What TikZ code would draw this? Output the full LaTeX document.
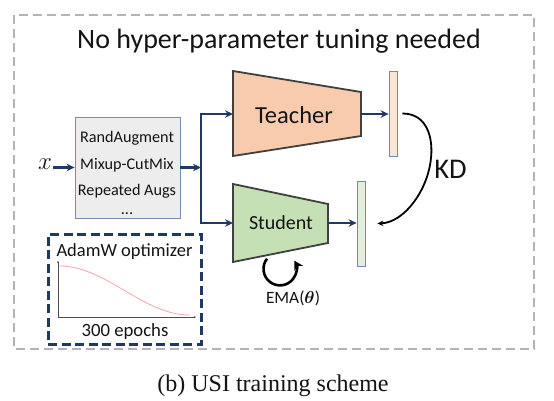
\documentclass[tikz,border=0pt]{standalone}
\usepackage{fontspec}
\usepackage{bm}
\setmainfont{Carlito}
\newfontfamily\capfont{Liberation Serif}
\usetikzlibrary{arrows.meta}
\definecolor{navy}{HTML}{203864}
\definecolor{tfill}{HTML}{F8CBAD}
\definecolor{sfill}{HTML}{C5E0B4}
\definecolor{tbarfill}{HTML}{FBE5D6}
\definecolor{sbarfill}{HTML}{E2F0D9}
\definecolor{barline}{HTML}{7189C0}
\definecolor{augfill}{HTML}{EDEDED}
\definecolor{augline}{HTML}{7A8DB0}
\definecolor{outerline}{HTML}{B4B4B4}
\definecolor{trapline}{HTML}{404040}
\definecolor{lrcurve}{HTML}{F4A7A7}
\definecolor{txt}{HTML}{141414}
\newcommand{\fsz}[1]{\fontsize{#1}{#1}\selectfont}
\begin{document}
\begin{tikzpicture}[x=1pt,y=-1pt,
  navyarrow/.style={draw=navy, line width=2.4pt, -{Stealth[length=8pt,width=7.5pt]}},
  trap/.style={draw=trapline, line width=1.8pt, line join=miter},
  bar/.style={draw=barline, line width=0.8pt, minimum width=8pt, minimum height=85pt, inner sep=0pt},
  lbl/.style={inner sep=0pt, text=txt},
]
\useasboundingbox (0,0) rectangle (554,400);
\fill[white] (0,0) rectangle (554,400);
% outer dashed frame
\draw[outerline, line width=1.6pt, dash pattern=on 9pt off 5pt] (14,15) rectangle (534,349);
\node[lbl, anchor=base] (title) at (279,48) {\fsz{28}No hyper-parameter tuning needed};

% augmentation box
\node[draw=augline, fill=augfill, line width=0.8pt, minimum width=105pt, minimum height=101pt, inner sep=0pt] (aug) at (127.5,167.5) {};
\node[lbl, anchor=base] (aug1) at (127,142.5) {\fsz{16.2}RandAugment};
\node[lbl, anchor=base] (aug2) at (127,169) {\fsz{16.2}Mixup-CutMix};
\node[lbl, anchor=base] (aug3) at (127,195.5) {\fsz{16.2}Repeated Augs};
\node[lbl, anchor=base] (aug4) at (127,214.5) {\fsz{16.2}...};

% input
\node[lbl] (xin) at (45,164) {\fsz{30}$x$};
\draw[navyarrow] ([xshift=1pt]xin.east |- aug.west) -- (aug.west);

% split
\coordinate (split) at (201,167.5);
\coordinate (tin) at (233,114);
\coordinate (tout) at (361,114);
\coordinate (sin) at (233,223);
\coordinate (sout) at (328,223);
\draw[navyarrow] (aug.east) -- (split);

% teacher
\draw[trap, fill=tfill] (233,71) -- (361,92) -- (361,136) -- (233,156) -- cycle;
\node[lbl, anchor=base] (teacher) at (294,123) {\fsz{24.5}Teacher};
\node[bar, fill=tbarfill] (tbar) at (393,113.5) {};

% student
\draw[trap, fill=sfill] (233,184) -- (328,204) -- (328,243) -- (233,262) -- cycle;
\node[lbl, anchor=base] (student) at (281,229) {\fsz{20}Student};
\node[bar, fill=sbarfill] (sbar) at (361,223.5) {};

% connectors
\draw[navyarrow, line join=miter] (split) |- (tin);
\draw[navyarrow, line join=miter] (split) |- (sin);
\draw[navyarrow] (tout) -- (tbar.west |- tout);
\draw[navyarrow] (sout) -- (sbar.west |- sout);

% KD
\coordinate (kdmid) at (431,158);
\draw[black, line width=1.8pt, -{Stealth[length=6pt,width=5.5pt]}]
  ([xshift=5pt]tbar.east) .. controls +(26,0) and +(2,-18) .. (kdmid)
  .. controls +(-3,32) and +(27,-1) .. ([xshift=12pt]sbar.east);
\node[lbl, anchor=base] (kd) at (450.5,178) {\fsz{28.5}KD};

% EMA
\draw[black, line width=2.6pt, -{Stealth[length=9pt,width=10pt]}]
  (267,258.7) arc[start angle=218, end angle=-30, radius=16.5];
\node[lbl, anchor=base] (ema) at (293,303) {\fsz{17.3}EMA($\bm{\theta}$)};

% AdamW box
\node[draw=navy, line width=3pt, dash pattern=on 9pt off 4.5pt, minimum width=153pt, minimum height=110pt, inner sep=0pt] (adam) at (124.5,289) {};
\node[lbl, anchor=base] (adamt) at (124.5,256.5) {\fsz{18.5}AdamW optimizer};
\node[lbl, anchor=base] (epochs) at (125,336.5) {\fsz{18.7}300 epochs};
\draw[black!70, line width=0.5pt, -{Stealth[length=2pt,width=2pt]}] (58,317) -- (58,261);
\draw[black!70, line width=0.5pt, -{Stealth[length=2pt,width=2pt]}] (58,317) -- (196,317);
\draw[lrcurve, line width=0.8pt] plot[domain=0:1, samples=60] ({59+131*\x}, {315-24.5*(1+cos(180*\x))});

% caption
\node[lbl, anchor=base] (caption) at (273,391.5) {\capfont\fsz{24}(b) USI training scheme};
\end{tikzpicture}
\end{document}
